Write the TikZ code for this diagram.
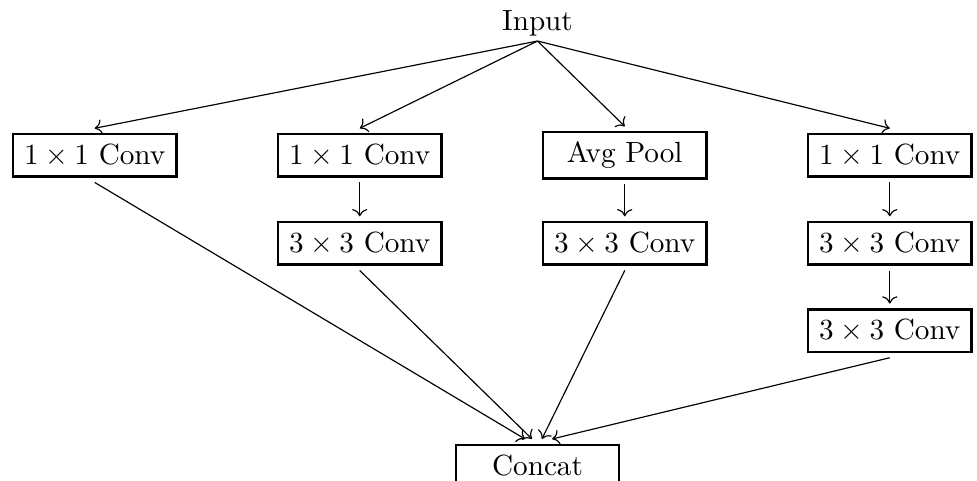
\documentclass[tikz,border=0pt]{standalone}
\usepackage{amsmath}
\usepackage{tikz}
\usetikzlibrary{
    positioning,
    arrows.meta
}

\begin{document}
\begin{tikzpicture}[>=To,
        box/.style={draw, thick, outer sep=2pt, minimum width=56pt, minimum height=14pt},
        lbl/.style={inner sep=1.7pt, outer sep=0pt}]
        \useasboundingbox (0,0) rectangle (11.76,-5.78);

        % 入力
        \node[lbl] (in) at (6.47,-0.28) {Input};

        % 4つの分岐
        \node[box] (c1a) at (1.14,-1.87) {$1\times1$ Conv};
        \node[box] (c2a) at (4.33,-1.87) {$1\times1$ Conv};
        \node[box] (c2b) at (4.33,-2.93) {$3\times3$ Conv};
        \node[box] (pool) at (7.52,-1.87) {Avg Pool};
        \node[box] (c3b) at (7.52,-2.93) {$3\times3$ Conv};
        \node[box] (c4a) at (10.71,-1.87) {$1\times1$ Conv};
        \node[box] (c4b) at (10.71,-2.93) {$3\times3$ Conv};
        \node[box] (c4c) at (10.71,-3.98) {$3\times3$ Conv};

        % 出力
        \node[box] (cat) at (6.47,-5.60) {Concat};

        \foreach \b in {c1a, c2a, pool, c4a} {
            \draw[->] (in.south) -- (\b.north);
        }
        \draw[->] (c2a) -- (c2b);
        \draw[->] (pool) -- (c3b);
        \draw[->] (c4a) -- (c4b);
        \draw[->] (c4b) -- (c4c);

        \draw[->] (c1a.south) -- ([xshift=-4.3pt]cat.north);
        \draw[->] (c2b.south) -- ([xshift=-1.9pt]cat.north);
        \draw[->] (c3b.south) -- ([xshift=1.5pt]cat.north);
        \draw[->] (c4c.south) -- ([xshift=5pt]cat.north);
    \end{tikzpicture}
\end{document}
